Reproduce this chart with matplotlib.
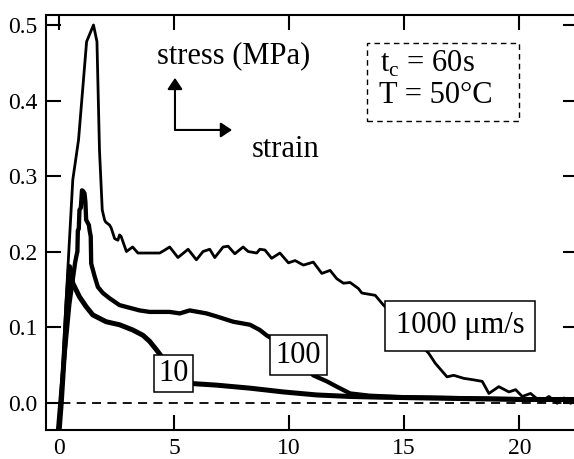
import matplotlib
matplotlib.use("Agg")
import matplotlib.pyplot as plt
from matplotlib.patches import Rectangle

plt.rcParams['font.family'] = ['Liberation Serif', 'DejaVu Serif']
plt.rcParams['mathtext.fontset'] = 'custom'
plt.rcParams['mathtext.rm'] = 'Liberation Serif'

# 1000 um/s
x1000 = [-0.1, 0.02, 0.3, 0.6, 0.85, 1.2, 1.5, 1.65, 1.76, 1.88, 1.98, 2.03, 2.2, 2.27, 2.42,
         2.56, 2.63, 2.7, 2.93, 3.2, 3.43, 3.72, 4.38, 4.6, 4.81, 5.17, 5.61, 5.97, 6.26, 6.55,
         6.77, 7.13, 7.35, 7.64, 8.0, 8.22, 8.59, 8.73, 8.95, 9.24, 9.6, 9.97, 10.26, 10.62,
         11.05, 11.42, 11.78, 12.07, 12.36, 12.65, 13.01, 13.16, 13.74, 14.1, 14.6, 15.1, 15.6,
         16.07, 16.35, 16.86, 17.15, 17.59, 18.02, 18.39, 18.68, 19.11, 19.55, 19.84, 20.13,
         20.49, 20.93, 21.29, 21.65, 21.94, 22.23, 22.6]
y1000 = [-0.05, -0.039, 0.13, 0.295, 0.348, 0.478, 0.5, 0.478, 0.334, 0.255, 0.242, 0.239,
         0.235, 0.231, 0.217, 0.215, 0.222, 0.22, 0.2, 0.206, 0.198, 0.198, 0.198, 0.202, 0.206,
         0.192, 0.203, 0.189, 0.2, 0.203, 0.192, 0.206, 0.207, 0.197, 0.206, 0.2, 0.198, 0.203,
         0.202, 0.191, 0.198, 0.185, 0.188, 0.182, 0.186, 0.171, 0.175, 0.164, 0.158, 0.159,
         0.151, 0.145, 0.142, 0.129, 0.115, 0.1, 0.08, 0.065, 0.052, 0.034, 0.036, 0.032, 0.03,
         0.028, 0.012, 0.021, 0.014, 0.017, 0.008, 0.012, 0.001, 0.008, -0.001, 0.006, -0.001,
         0.005]

# 100 um/s
x100 = [-0.05, 0.2, 0.45, 0.7, 0.75, 0.8, 0.82, 0.86, 0.89, 0.95, 1.0, 1.05, 1.11, 1.15, 1.18,
        1.3, 1.33, 1.38, 1.4, 1.55, 1.69, 1.91, 2.2, 2.63, 3.5, 3.94, 4.81, 5.25, 5.68, 6.41,
        6.85, 7.57, 8.3, 8.73, 9.02, 9.5, 10.5, 11.05, 11.64, 12.07, 12.65, 13.5, 15, 17, 19,
        21, 22.6]
y100 = [-0.04, 0.05, 0.13, 0.185, 0.193, 0.2, 0.228, 0.23, 0.255, 0.258, 0.281, 0.28, 0.277,
        0.265, 0.242, 0.235, 0.228, 0.22, 0.184, 0.167, 0.153, 0.145, 0.138, 0.129, 0.122,
        0.12, 0.12, 0.118, 0.122, 0.118, 0.114, 0.107, 0.103, 0.096, 0.089, 0.08, 0.055,
        0.036, 0.028, 0.021, 0.012, 0.009, 0.007, 0.006, 0.005, 0.004, 0.004]

# 10 um/s
x10 = [0.0, 0.1, 0.17, 0.24, 0.35, 0.46, 0.6, 0.89, 1.18, 1.47, 2.05, 2.63, 3.21, 3.65, 3.94,
       4.23, 4.6, 5.3, 5.83, 6.85, 8.3, 9.75, 11.2, 12.65, 14, 16, 18, 20, 22.6]
y10 = [-0.04, 0.0, 0.034, 0.07, 0.13, 0.18, 0.158, 0.14, 0.127, 0.116, 0.107, 0.103, 0.096,
       0.089, 0.081, 0.07, 0.055, 0.03, 0.025, 0.023, 0.019, 0.014, 0.01, 0.008, 0.007, 0.006,
       0.005, 0.004, 0.004]

fig = plt.figure(figsize=(5.74, 4.59), dpi=100)
ax = fig.add_axes([0.0801, 0.0632, 0.9268, 0.904])

ax.axhline(0, color='k', lw=1.3, ls=(0, (5, 3.5)), zorder=1)
ax.plot(x10, y10, color='k', lw=3.6, zorder=2)
ax.plot(x100, y100, color='k', lw=3.1, zorder=2)
ax.plot(x1000, y1000, color='k', lw=2.0, zorder=3)

ax.set_xlim(-0.565, 22.55)
ax.set_ylim(-0.0364, 0.5132)
ax.set_xticks([0, 5, 10, 15, 20])
ax.set_yticks([0.0, 0.1, 0.2, 0.3, 0.4, 0.5])
ax.set_yticklabels(['0.0', '0.1', '0.2', '0.3', '0.4', '0.5'])
ax.tick_params(direction='in', length=11, width=1.5, top=True, right=True,
               labelsize=17)
ax.tick_params(axis='y', pad=6)
ax.tick_params(axis='x', pad=6)
for s in ax.spines.values():
    s.set_linewidth(1.5)

# speed labels
ax.text(4.97, 0.0387, '10', fontsize=22, ha='center', va='center', zorder=5,
        bbox=dict(boxstyle='square,pad=0.14', fc='white', ec='k', lw=1.1))
ax.text(10.4, 0.0629, '100', fontsize=22, ha='center', va='center', zorder=5,
        bbox=dict(boxstyle='square,pad=0.18', fc='white', ec='k', lw=1.1))
ax.text(17.42, 0.1016, '1000 μm/s', fontsize=22, ha='center', va='center', zorder=5,
        bbox=dict(boxstyle='square,pad=0.35', fc='white', ec='k', lw=1.1))

# axis legend arrows
ax.text(4.24, 0.4497, 'stress (MPa)', fontsize=22, va='baseline')
ax.text(8.38, 0.325, 'strain', fontsize=22, va='baseline')
arw = dict(arrowstyle='-|>,head_length=0.45,head_width=0.3', color='k', lw=1.5,
           shrinkA=0, shrinkB=0, mutation_scale=15)
ax.annotate('', xy=(5.04, 0.43), xytext=(5.04, 0.361), arrowprops=arw)
ax.annotate('', xy=(7.52, 0.361), xytext=(5.04, 0.361), arrowprops=arw)

# conditions box
ax.add_patch(Rectangle((13.38, 0.373), 6.6, 0.103, fill=False, ec='k', lw=1.0,
                       ls=(0, (4, 3))))
ax.text(13.94, 0.4377, r't$_\mathrm{c}$ = 60s', fontsize=22, va='baseline')
ax.text(13.9, 0.3967, 'T = 50°C', fontsize=22, va='baseline')

fig.savefig('out.png', dpi=100)
